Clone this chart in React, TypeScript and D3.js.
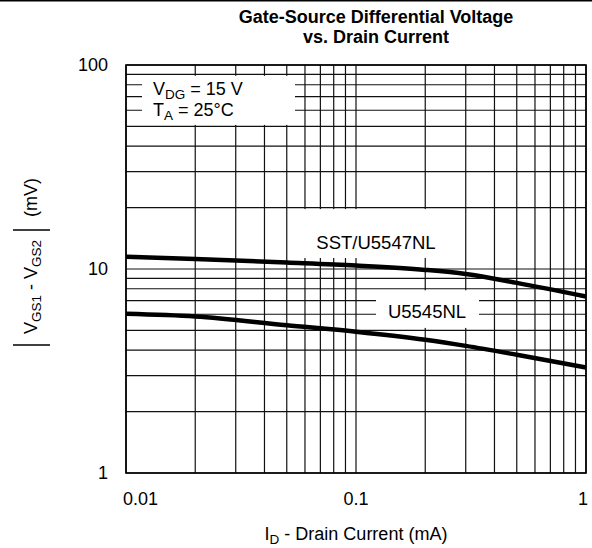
import React from "react";
import * as d3 from "d3";

const currentMA = [0.01, 0.02, 0.05, 0.1, 0.2, 0.3, 0.5, 1];
const sst5547 = [11.5, 11.2, 10.76, 10.4, 9.9, 9.45, 8.55, 7.33];
const u5545 = [6.03, 5.85, 5.3, 4.93, 4.5, 4.2, 3.8, 3.29];
const xTicks = [0.01, 0.1, 1];
const xTickLabels = ["0.01", "0.1", "1"];
const yTicks = [1, 10, 100];
const yTickLabels = ["1", "10", "100"];

const W = 592;
const H = 548;
const FONT = "'Liberation Sans', Arial, Helvetica, sans-serif";
const FS = 18;
const SUB = 13.5;

export default function App() {
  const x = d3.scaleLog().domain([0.01, 1]).range([126, 586]);
  const y = d3.scaleLog().domain([1, 100]).range([473, 65]);

  const xGrid: number[] = [];
  for (const dec of [0.01, 0.1]) for (let k = 1; k <= 9; k++) xGrid.push(dec * k);
  xGrid.push(1);
  const yGrid: number[] = [];
  for (const dec of [1, 10]) for (let k = 1; k <= 9; k++) yGrid.push(dec * k);
  yGrid.push(100);

  const line = d3
    .line<number>()
    .x((_, i) => x(currentMA[i]))
    .y((d) => y(d))
    .curve(d3.curveMonotoneX);

  const [x0, x1] = x.range();
  const [y0, y1] = y.range();

  return (
    <svg
      width={W}
      height={H}
      viewBox={`0 0 ${W} ${H}`}
      style={{ position: "absolute", left: 0, top: 0, background: "#fff" }}
      fontFamily={FONT}
    >
      <rect x={0} y={0} width={W} height={H} fill="#fff" />
      <line x1={0} x2={W} y1={0.75} y2={0.75} stroke="#000" strokeWidth={1.5} />

      <text x={376} y={23} textAnchor="middle" fontWeight="bold" fontSize={18}>
        Gate-Source Differential Voltage
      </text>
      <text x={376} y={43} textAnchor="middle" fontWeight="bold" fontSize={18}>
        vs. Drain Current
      </text>

      <g stroke="#111" strokeWidth={1.2}>
        {xGrid.map((v, i) => (
          <line key={"xg" + i} x1={x(v)} x2={x(v)} y1={y1} y2={y0} />
        ))}
        {yGrid.map((v, i) => (
          <line key={"yg" + i} x1={x0} x2={x1} y1={y(v)} y2={y(v)} />
        ))}
      </g>

      <rect x={142} y={y(90) + 1.5} width={153} height={y(50) - y(90) - 3} fill="#fff" />
      <rect x={298} y={y(20) + 1.5} width={148} height={258 - y(20) - 1.5} fill="#fff" />
      <rect x={376} y={y(8) + 1.5} width={103} height={y(5) - y(8) - 4} fill="#fff" />

      <text x={153} y={95} fontSize={FS}>
        V<tspan fontSize={SUB} dy={4}>DG</tspan>
        <tspan dy={-4}> = 15 V</tspan>
      </text>
      <text x={153} y={116} fontSize={FS}>
        T<tspan fontSize={SUB} dy={4}>A</tspan>
        <tspan dy={-4}> = 25°C</tspan>
      </text>
      <text x={376} y={249} fontSize={18.5} textAnchor="middle">SST/U5547NL</text>
      <text x={427} y={318} fontSize={18.5} textAnchor="middle">U5545NL</text>

      <path d={line(sst5547) ?? ""} fill="none" stroke="#000" strokeWidth={4.5} />
      <path d={line(u5545) ?? ""} fill="none" stroke="#000" strokeWidth={4.5} />

      <rect x={x0} y={y1} width={x1 - x0} height={y0 - y1} fill="none" stroke="#000" strokeWidth={1.6} />

      {yTicks.map((v, i) => (
        <text key={"yt" + i} x={108} y={y(v) + 6} textAnchor="end" fontSize={FS}>
          {yTickLabels[i]}
        </text>
      ))}
      {xTicks.map((v, i) => (
        <text
          key={"xt" + i}
          x={i === 0 ? x(v) - 3 : i === 2 ? x(v) - 3 : x(v)}
          y={505}
          textAnchor={i === 0 ? "start" : "middle"}
          fontSize={FS}
        >
          {xTickLabels[i]}
        </text>
      ))}

      <text x={356} y={540} textAnchor="middle" fontSize={FS}>
        I<tspan fontSize={SUB} dy={4}>D</tspan>
        <tspan dy={-4}> - Drain Current (mA)</tspan>
      </text>

      <g transform="translate(37,0) rotate(-90)">
        <line x1={-345} x2={-345} y1={-24} y2={13} stroke="#000" strokeWidth={1.3} />
        <line x1={-230} x2={-230} y1={-24} y2={13} stroke="#000" strokeWidth={1.3} />
        <text x={-334} y={0} fontSize={FS}>
          V<tspan fontSize={SUB} dy={4}>GS1</tspan>
          <tspan dy={-4}> - V</tspan>
          <tspan fontSize={SUB} dy={4}>GS2</tspan>
        </text>
        <text x={-217} y={0} fontSize={FS}>(mV)</text>
      </g>
    </svg>
  );
}
